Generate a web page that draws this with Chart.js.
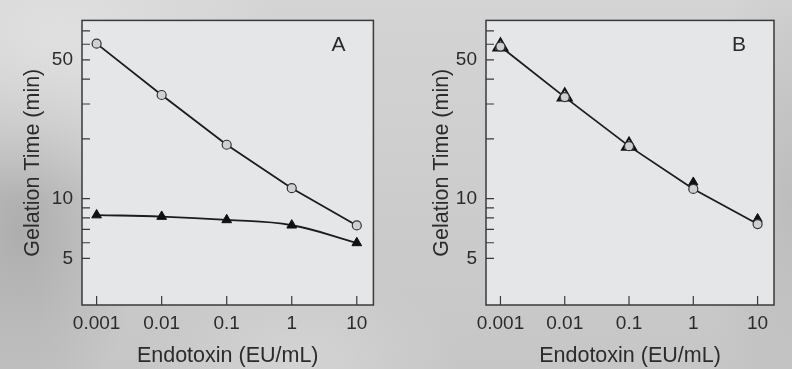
<!DOCTYPE html>
<html>
<head>
<meta charset="utf-8">
<script src="https://cdn.jsdelivr.net/npm/chart.js@4.4.1/dist/chart.umd.min.js"></script>
<style>
  html, body { margin:0; padding:0; }
  body {
    width:792px; height:369px; overflow:hidden; position:relative;
    background:
      radial-gradient(ellipse 220px 160px at 60px 40px, rgba(225,225,225,0.9), rgba(225,225,225,0)),
      radial-gradient(ellipse 120px 200px at 20px 230px, rgba(170,170,170,0.9), rgba(170,170,170,0)),
      radial-gradient(ellipse 160px 90px at 300px 360px, rgba(215,215,215,0.8), rgba(215,215,215,0)),
      radial-gradient(ellipse 90px 250px at 792px 200px, rgba(185,185,185,0.8), rgba(185,185,185,0)),
      linear-gradient(180deg, #d4d4d4, #c6c6c6);
  }
  canvas { position:absolute; top:0; }
  #panelA { left:0; }
  #panelB { left:404px; }
</style>
</head>
<body>
<canvas id="panelA" width="380" height="369"></canvas>
<canvas id="panelB" width="380" height="369"></canvas>
<script>
// endotoxin concentrations (EU/mL)
var doses = [0.001, 0.01, 0.1, 1, 10];
// gelation times (min)
var aCircle   = [60.4, 33.3, 18.7, 11.3, 7.33];
var aTriangle = [8.27, 8.13, 7.82, 7.35, 5.99];
var bCircle   = [58.4, 32.5, 18.4, 11.2, 7.45];
var bTriangle = [58.4, 32.7, 18.5, 12.1, 7.92];

var xTicks = [0.001, 0.01, 0.1, 1, 10];
var yLabelTicks = [5, 10, 50];
var yMinorTicks = [6, 7, 8, 9, 20, 30, 40, 60, 70];

var ink = '#2b2b2b';
Chart.defaults.font.family = '"Liberation Sans", Arial, sans-serif';
Chart.defaults.color = ink;

function pts(arr){
    return doses.map((d, i) => ({x: d, y: arr[i]}));
}

// plot background, frame and inward ticks
var framePlugin = {
    id: 'frame',
    beforeDatasetsDraw(chart, args, opts){
        var ctx = chart.ctx, a = chart.chartArea;
        ctx.save();
        ctx.fillStyle = '#e5e6e8';
        ctx.fillRect(a.left, a.top, a.right - a.left, a.bottom - a.top);
        ctx.strokeStyle = '#3a3a3a';
        ctx.lineWidth = 1.5;
        ctx.strokeRect(a.left, a.top, a.right - a.left, a.bottom - a.top);
        ctx.lineWidth = 1.2;
        ctx.beginPath();
        yLabelTicks.concat(yMinorTicks).forEach(v => {
            var py = chart.scales.y.getPixelForValue(v);
            ctx.moveTo(a.left, py); ctx.lineTo(a.left + 8, py);
        });
        xTicks.forEach(v => {
            var px = chart.scales.x.getPixelForValue(v);
            ctx.moveTo(px, a.bottom); ctx.lineTo(px, a.bottom - 9);
        });
        ctx.stroke();
        ctx.restore();
    },
    afterDraw(chart, args, opts){
        var ctx = chart.ctx, a = chart.chartArea;
        ctx.save();
        ctx.fillStyle = ink;
        ctx.font = '21px "Liberation Sans", Arial, sans-serif';
        ctx.textAlign = 'center';
        ctx.textBaseline = 'middle';
        ctx.fillText(opts.letter, a.right - 35, a.top + 25);
        ctx.restore();
    }
};

function makeConfig(datasets, letter, titlePad){
    return {
        type: 'line',
        data: { datasets: datasets },
        plugins: [framePlugin],
        options: {
            responsive: false,
            devicePixelRatio: 1,
            animation: false,
            layout: { padding: { top: 14, right: 5, left: 0, bottom: 0 } },
            plugins: {
                legend: { display: false },
                tooltip: { enabled: false },
                frame: { letter: letter }
            },
            scales: {
                x: {
                    type: 'logarithmic',
                    position: 'bottom',
                    min: 0.000596,
                    max: 18.0,
                    afterFit: s => { s.height = 64; },
                    afterBuildTicks: s => { s.ticks = xTicks.map(v => ({value: v})); },
                    ticks: {
                        autoSkip: false, maxRotation: 0, padding: 7,
                        font: { size: 19 }, color: ink,
                        callback: v => String(v)
                    },
                    grid: { display: false, drawTicks: false },
                    border: { display: false },
                    title: {
                        display: true, text: 'Endotoxin (EU/mL)',
                        font: { size: 21.5 }, color: ink,
                        padding: { top: 0, bottom: 0 }
                    }
                },
                y: {
                    type: 'logarithmic',
                    position: 'left',
                    min: 2.914,
                    max: 79.1,
                    afterFit: s => { s.width = 82; },
                    afterBuildTicks: s => { s.ticks = yLabelTicks.map(v => ({value: v})); },
                    ticks: {
                        autoSkip: false, padding: 9,
                        font: { size: 19 }, color: ink,
                        callback: v => String(v)
                    },
                    grid: { display: false, drawTicks: false },
                    border: { display: false },
                    title: {
                        display: true, text: 'Gelation Time (min)',
                        font: { size: 21.5 }, color: ink,
                        padding: { top: titlePad, bottom: 0 }
                    }
                }
            }
        }
    };
}

var circleStyle = {
    pointStyle: 'circle', pointRadius: 4.5,
    pointBackgroundColor: '#cfd0d2', pointBorderColor: '#333', pointBorderWidth: 1.2,
    borderColor: '#1c1c1c', borderWidth: 1.8, tension: 0
};

new Chart(document.getElementById('panelA'), makeConfig([
    Object.assign({ label: 'circle', data: pts(aCircle), order: 0 }, circleStyle),
    {
        label: 'triangle', data: pts(aTriangle), order: 1,
        pointStyle: 'triangle', pointRadius: 5.6,
        pointBackgroundColor: '#111', pointBorderColor: '#111', pointBorderWidth: 1,
        borderColor: '#1c1c1c', borderWidth: 1.8, tension: 0.4
    }
], 'A', 20));

new Chart(document.getElementById('panelB'), makeConfig([
    Object.assign({ label: 'circle', data: pts(bCircle), order: 0 }, circleStyle),
    {
        label: 'triangle', data: pts(bTriangle), order: 1, showLine: false,
        pointStyle: 'triangle', pointRadius: [8, 8, 8, 5.3, 5.3],
        pointBackgroundColor: ['#e5e6e8', '#e5e6e8', '#e5e6e8', '#111', '#111'],
        pointBorderColor: '#111', pointBorderWidth: [2, 2, 2, 1, 1]
    }
], 'B', 25));
</script>
</body>
</html>
